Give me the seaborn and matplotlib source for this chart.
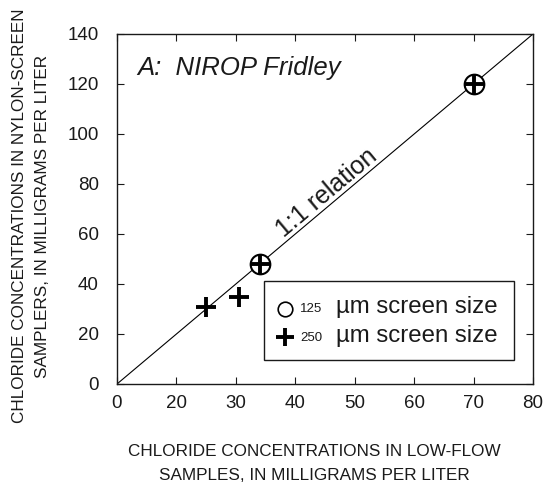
import matplotlib
matplotlib.use("Agg")
import matplotlib.pyplot as plt
import seaborn as sns
from matplotlib.patches import Rectangle

# ---- data ----
circle_x = [34, 70]
circle_y = [48, 120]
plus_x = [25, 30.5, 34, 70]
plus_y = [31, 35, 48, 120]
line_x = [10, 80]
line_y = [0, 140]
xtick_pos = [10, 20, 30, 40, 50, 60, 70, 80]
xtick_labels = ["0", "20", "30", "40", "50", "60", "70", "80"]
ytick_pos = [0, 20, 40, 60, 80, 100, 120, 140]
ytick_labels = ["0", "20", "40", "60", "80", "100", "120", "140"]
title_text = "A:  NIROP Fridley"
line_label = "1:1 relation"
legend_sizes = ["125", "250"]
legend_text = "\u00b5m screen size"
xlabel = "CHLORIDE CONCENTRATIONS IN LOW-FLOW\nSAMPLES, IN MILLIGRAMS PER LITER"
ylabel = "CHLORIDE CONCENTRATIONS IN NYLON-SCREEN\nSAMPLERS, IN MILLIGRAMS PER LITER"

sns.set_style("ticks")
regular = ["Liberation Sans", "DejaVu Sans"]
plt.rcParams["font.family"] = regular
ink = "#1a1a1a"

fig = plt.figure(figsize=(5.44, 4.87), dpi=100)
ax = fig.add_axes([117 / 544, 1 - 384 / 487, 416 / 544, 350 / 487])
ax.set_facecolor("white")

sns.lineplot(x=line_x, y=line_y, ax=ax, color="black", linewidth=0.8)
sns.scatterplot(x=circle_x, y=circle_y, ax=ax, marker="o", s=200,
                color="white", edgecolor="black", linewidth=1.5, zorder=3)
sns.scatterplot(x=plus_x, y=plus_y, ax=ax, marker="+", s=225,
                color="black", linewidth=2.8, zorder=4)

ax.set_xlim(10, 80)
ax.set_ylim(0, 140)
ax.set_xticks(xtick_pos)
ax.set_xticklabels(xtick_labels, fontsize=13.5, color=ink)
ax.set_yticks(ytick_pos)
ax.set_yticklabels(ytick_labels, fontsize=13.5, color=ink)
ax.tick_params(direction="in", length=5, width=0.8, top=True, right=True, color=ink)
ax.tick_params(axis="x", pad=8)
ax.tick_params(axis="y", pad=13)
for sp in ax.spines.values():
    sp.set_color(ink)
    sp.set_linewidth(1.0)

ax.set_xlabel(xlabel, fontsize=12.3, color=ink, linespacing=1.75)
ax.xaxis.set_label_coords(0.475, -0.171)
ax.set_ylabel(ylabel, fontsize=12.3, color=ink, linespacing=1.65)
ax.yaxis.set_label_coords(-0.161, 0.48)

ax.text(0.048, 0.883, title_text, transform=ax.transAxes, fontsize=18.5,
        fontstyle="italic", color=ink, ha="left", va="baseline")
ax.text(0.504, 0.545, line_label, transform=ax.transAxes, fontsize=18,
        color=ink, rotation=40.07, rotation_mode="anchor", ha="center", va="center")

# legend box
ax.add_patch(Rectangle((0.354, 0.0686), 0.601, 0.2264, transform=ax.transAxes,
                       facecolor="white", edgecolor=ink, linewidth=1.0, zorder=5))
ax.plot([0.404], [0.215], transform=ax.transAxes, marker="o", markersize=10.5,
        markerfacecolor="white", markeredgecolor="black", markeredgewidth=1.2,
        linestyle="none", zorder=6)
ax.plot([0.404], [0.133], transform=ax.transAxes, marker="+", markersize=13.5,
        markeredgecolor="black", markeredgewidth=2.8, linestyle="none", zorder=6)
for yb, sz in zip([0.202, 0.121], legend_sizes):
    ax.text(0.44, yb + 0.003, sz, transform=ax.transAxes, fontsize=9.5, color=ink,
            ha="left", va="baseline", zorder=6)
    ax.text(0.526, yb, legend_text, transform=ax.transAxes, fontsize=17.3, color=ink,
            ha="left", va="baseline", zorder=6)

fig.savefig("out.png", dpi=100, facecolor="white")
